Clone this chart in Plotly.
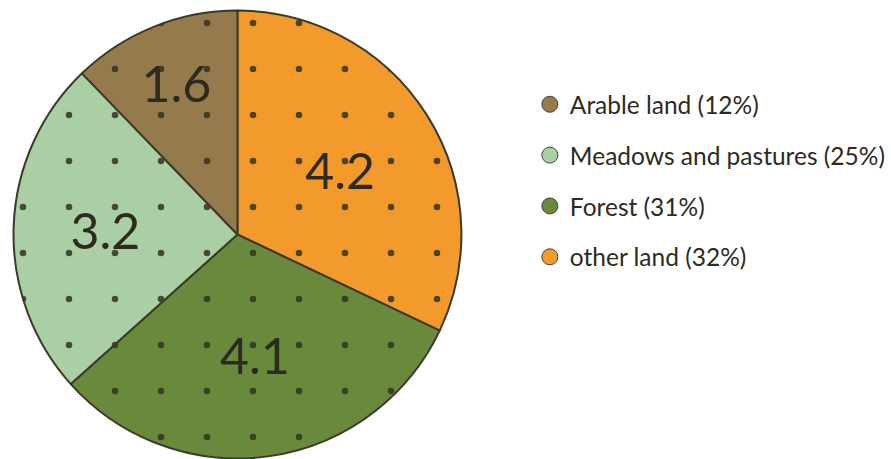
import plotly.graph_objects as go

# Land use shares (million hectares), listed in legend order
categories = ["Arable land", "Meadows and pastures", "Forest", "other land"]
values = [1.6, 3.2, 4.1, 4.2]
shares = [12, 25, 31, 32]
colors = ["#957a4c", "#aacfa5", "#698a3d", "#f39a2c"]

ink = "#2e2a1e"
font_family = "Lato, 'Open Sans', sans-serif"

# The pie runs clockwise from 12 o'clock starting with "other land",
# so the slices are fed in reverse legend order.
pie_labels = categories[::-1]
pie_values = values[::-1]
pie_colors = colors[::-1]

fig = go.Figure()

fig.add_trace(go.Pie(
    labels=pie_labels,
    values=pie_values,
    text=[f"{v:.1f}" for v in pie_values],
    textinfo="text",
    textposition="inside",
    insidetextorientation="horizontal",
    textfont=dict(family=font_family, size=50, color=ink),
    sort=False,
    direction="clockwise",
    rotation=0,
    showlegend=False,
    hoverinfo="label+value+percent",
    marker=dict(
        colors=pie_colors,
        line=dict(color="#3b3a2c", width=2),
        pattern=dict(shape=".", size=46, solidity=0.016,
                     bgcolor=pie_colors, fillmode="overlay",
                     fgcolor="#34321f", fgopacity=0.85),
    ),
    domain=dict(x=[0.0152, 0.519], y=[0, 1]),
))

# Legend entries: one marker per category, with its share
for name, share, col in zip(categories, shares, colors):
    fig.add_trace(go.Scatter(
        x=[None], y=[None], mode="markers",
        name=f"{name} ({share}%)",
        legendgroup=name,
        marker=dict(symbol="circle", size=16, color=col,
                    line=dict(color="#4a4636", width=1)),
    ))

fig.update_layout(
    width=891, height=459,
    margin=dict(l=0, r=0, t=10, b=0),
    paper_bgcolor="white",
    plot_bgcolor="white",
    xaxis=dict(visible=False),
    yaxis=dict(visible=False),
    uniformtext=dict(minsize=50, mode="show"),
    legend=dict(
        x=0.596, y=0.84, xanchor="left", yanchor="top",
        traceorder="grouped", tracegroupgap=16,
        font=dict(family=font_family, size=24.5, color=ink),
        itemwidth=30,
        bgcolor="rgba(0,0,0,0)",
    ),
)

fig.write_html("out.html")
